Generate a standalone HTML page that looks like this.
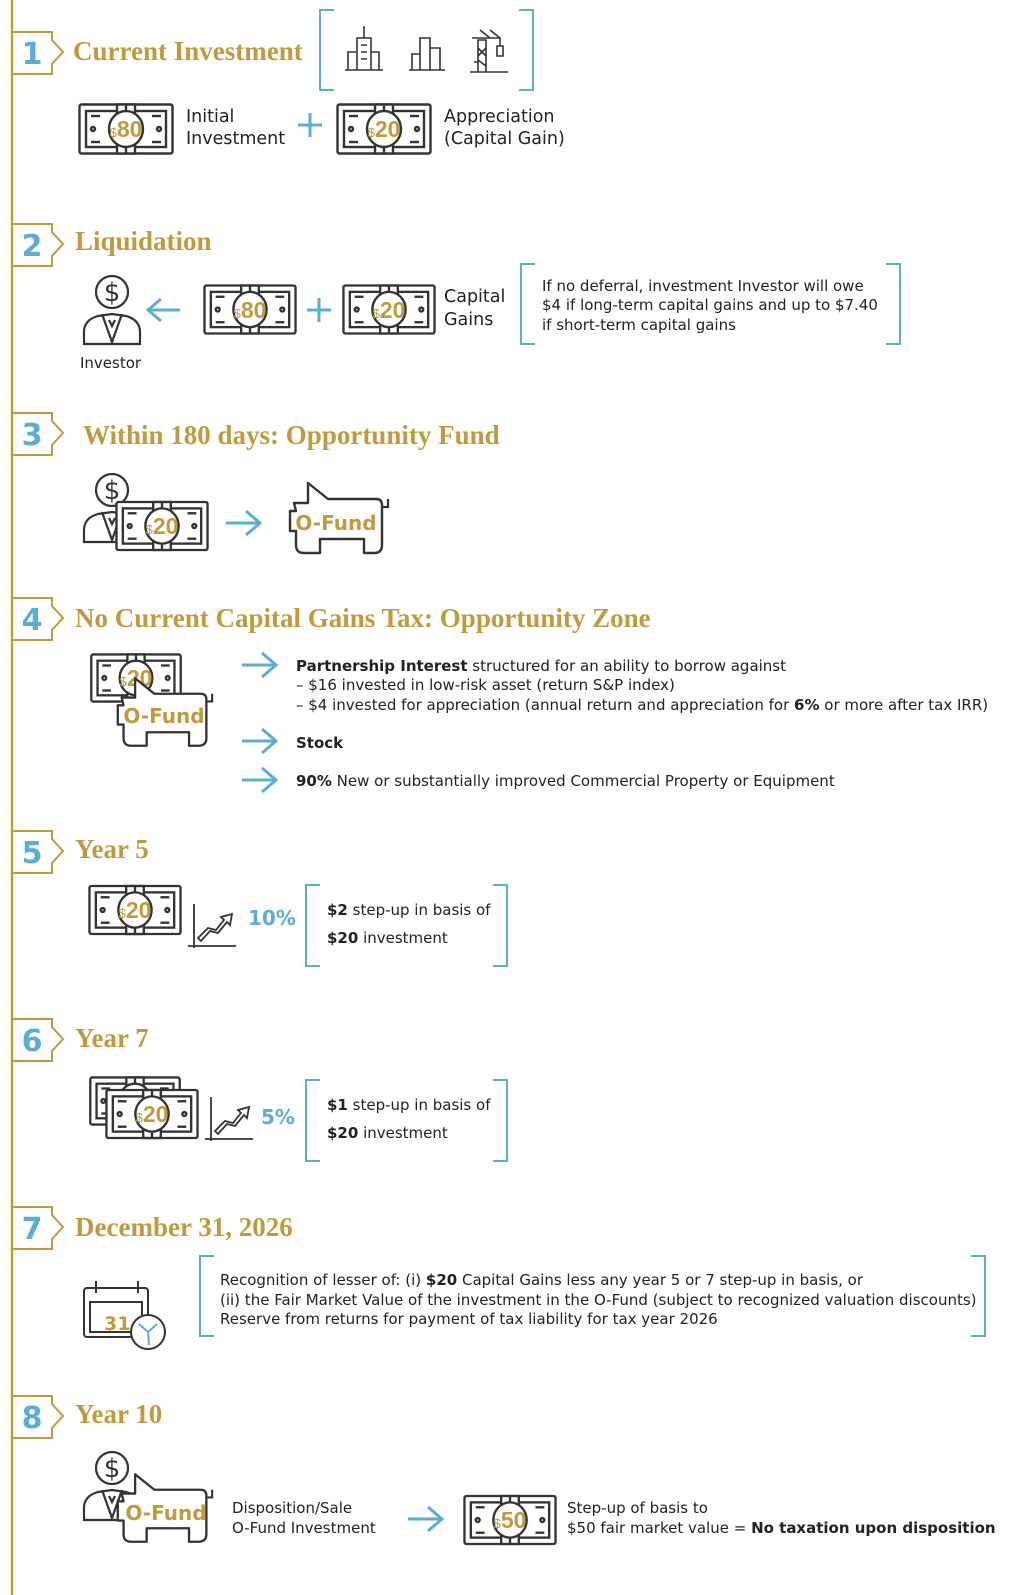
<!DOCTYPE html>
<html><head><meta charset="utf-8"><style>
html,body{margin:0;padding:0;background:#fff;}
svg{display:block;}
.h{font-family:"Liberation Serif",serif;font-weight:bold;font-size:27px;fill:#c09a3c;}
.n{font-family:"DejaVu Sans","Liberation Sans",sans-serif;font-weight:bold;font-size:30px;fill:#5aaed6;}
.t{font-family:"DejaVu Sans","Liberation Sans",sans-serif;font-size:15px;fill:#222;}
.tl{font-family:"DejaVu Sans","Liberation Sans",sans-serif;font-size:17.5px;fill:#222;}
.b{font-weight:bold;}
.g{font-family:"DejaVu Sans","Liberation Sans",sans-serif;font-weight:bold;fill:#c09a3c;}
.m{font-family:"Liberation Sans",sans-serif;font-weight:bold;fill:#c09a3c;font-size:23px;}
</style></head><body>
<svg width="1017" height="1595" viewBox="0 0 1017 1595" xmlns="http://www.w3.org/2000/svg">
<defs>
<symbol id="bill" viewBox="0 0 96 52" width="96" height="52">
 <g fill="none" stroke="#333" stroke-width="2.4">
  <rect x="1.5" y="1.5" width="93" height="49" rx="2" fill="#fff"/>
  <rect x="8" y="8" width="80" height="36"/>
  <rect x="39" y="1.5" width="18" height="49" fill="#fff"/>
  <line x1="48" y1="1.5" x2="48" y2="50.5"/>
  <ellipse cx="48" cy="26" rx="17" ry="18" fill="#fff"/>
  <circle cx="15" cy="26" r="2"/><circle cx="81" cy="26" r="2"/>
  <line x1="13" y1="13" x2="22" y2="13"/><line x1="13" y1="39" x2="22" y2="39"/>
  <line x1="74" y1="13" x2="83" y2="13"/><line x1="74" y1="39" x2="83" y2="39"/>
 </g>
</symbol>
<symbol id="pig" viewBox="0 0 108 76" width="108" height="76">
 <path d="M10,22 L24,22 L24,2 L44,18 L92,18 Q98,18 98,24 L98,64 Q98,72 90,72 L80,72 L80,58 L36,58 L36,72 L20,72 Q12,72 12,64 L12,50 L6,50 L6,30 L12,30 Z" fill="#fff" stroke="#333" stroke-width="2.4" stroke-linejoin="round"/>
 <path d="M98,26 L104,26 L104,18" fill="none" stroke="#333" stroke-width="2.2"/>
</symbol>
<symbol id="inv" viewBox="0 0 60 72" width="60" height="72">
 <g fill="none" stroke="#333" stroke-width="2.2">
  <circle cx="30" cy="18" r="16" fill="#fff"/>
  <path d="M2,70 L2,58 Q2,46 16,42 L30,40 L44,42 Q58,46 58,58 L58,70 Z" fill="#fff"/>
  <path d="M20,40 L30,68 L40,40 M27,46 L30,52 L33,46"/>
 </g>
 <text x="30" y="27" text-anchor="middle" font-family="DejaVu Sans,sans-serif" font-size="26" fill="#333">$</text>
</symbol>
<symbol id="arr" viewBox="0 0 40 30" width="40" height="30">
 <path d="M2,15 L36,15 M22,3 L36,15 L22,27" fill="none" stroke="#5aaed6" stroke-width="3"/>
</symbol>
<symbol id="chart" viewBox="0 0 50 50" width="50" height="50">
 <g fill="none" stroke="#333" stroke-width="1.8">
  <line x1="6" y1="4" x2="6" y2="48"/><line x1="0" y1="46" x2="48" y2="46"/>
  <path d="M10,38 L20,28 L28,30 L36,20 L33,17 L44,14 L42,25 L39,22 L30,33 L22,31 L13,41 Z"/>
 </g>
</symbol>
<symbol id="badge" viewBox="0 0 70 44" width="70" height="44">
 <path d="M0,1 L40,1 L40,9 L51,21 L40,33 L40,43 L0,43" fill="none" stroke="#c09a3c" stroke-width="2"/>
</symbol>
</defs>

<line x1="12" y1="0" x2="12" y2="1595" stroke="#c09a3c" stroke-width="2.5"/>

<use href="#badge" x="12" y="31"/><text class="n" x="32" y="64" text-anchor="middle">1</text>
<use href="#badge" x="12" y="223"/><text class="n" x="32" y="256" text-anchor="middle">2</text>
<use href="#badge" x="12" y="412"/><text class="n" x="32" y="445" text-anchor="middle">3</text>
<use href="#badge" x="12" y="597"/><text class="n" x="32" y="630" text-anchor="middle">4</text>
<use href="#badge" x="12" y="830"/><text class="n" x="32" y="863" text-anchor="middle">5</text>
<use href="#badge" x="12" y="1018"/><text class="n" x="32" y="1051" text-anchor="middle">6</text>
<use href="#badge" x="12" y="1206"/><text class="n" x="32" y="1239" text-anchor="middle">7</text>
<use href="#badge" x="12" y="1395"/><text class="n" x="32" y="1428" text-anchor="middle">8</text>

<!-- 1 -->
<text class="h" x="73" y="60">Current Investment</text>
<path d="M334,10 L320,10 L320,90 L334,90 M519,10 L533,10 L533,90 L519,90" fill="none" stroke="#5aaed6" stroke-width="2"/>
<g fill="none" stroke="#333" stroke-width="1.6">
 <path d="M345,70 L383,70 M348,70 L348,52 L356,52 M357,70 L357,38 L371,38 L371,70 M371,52 L379,52 L379,70 M364,38 L364,26 M361,45 L367,45 M361,52 L367,52 M361,59 L367,59"/>
 <path d="M409,70 L445,70 M412,70 L412,54 L420,54 M420,70 L420,38 L430,38 L430,70 M430,48 L440,48 L440,70"/>
 <path d="M470,72 L508,72 M478,72 L478,40 L486,40 L486,72 M478,48 L486,56 M486,48 L478,56 M478,60 L486,66 M472,38 L500,38 M480,30 L490,38 M490,30 L500,38 L500,46 M497,46 L503,46 L503,56 L497,56 Z M474,62 L478,62 L478,72"/>
</g>
<use href="#bill" x="78" y="103"/><text class="m" x="126" y="137" text-anchor="middle"><tspan font-size="13" font-weight="normal">$</tspan>80</text>
<text class="tl" x="186" y="122">Initial</text><text class="tl" x="186" y="144">Investment</text>
<path d="M298,125 L322,125 M310,113 L310,137" stroke="#5aaed6" stroke-width="3"/>
<use href="#bill" x="336" y="103"/><text class="m" x="384" y="137" text-anchor="middle"><tspan font-size="13" font-weight="normal">$</tspan>20</text>
<text class="tl" x="444" y="122">Appreciation</text><text class="tl" x="444" y="144">(Capital Gain)</text>

<!-- 2 -->
<text class="h" x="75" y="250">Liquidation</text>
<use href="#inv" x="82" y="274"/>
<text class="t" x="80" y="368">Investor</text>
<path d="M180,310 L148,310 M161,299 L148,310 L161,321" fill="none" stroke="#5aaed6" stroke-width="3"/>
<use href="#bill" x="203" y="284" width="94" height="51"/><text class="m" x="250" y="318" text-anchor="middle"><tspan font-size="13" font-weight="normal">$</tspan>80</text>
<path d="M307,310 L331,310 M319,298 L319,322" stroke="#5aaed6" stroke-width="3"/>
<use href="#bill" x="342" y="284" width="94" height="51"/><text class="m" x="389" y="318" text-anchor="middle"><tspan font-size="13" font-weight="normal">$</tspan>20</text>
<text class="tl" x="444" y="302">Capital</text><text class="tl" x="444" y="325">Gains</text>
<path d="M535,264 L521,264 L521,344 L535,344 M886,264 L900,264 L900,344 L886,344" fill="none" stroke="#5aaed6" stroke-width="2"/>
<text class="t" x="542" y="291">If no deferral, investment Investor will owe</text>
<text class="t" x="542" y="310">$4 if long-term capital gains and up to $7.40</text>
<text class="t" x="542" y="330">if short-term capital gains</text>

<!-- 3 -->
<text class="h" x="83" y="444">Within 180 days: Opportunity Fund</text>
<use href="#inv" x="82" y="472"/>
<use href="#bill" x="115" y="500" width="94" height="52"/><text class="m" x="162" y="534" text-anchor="middle"><tspan font-size="13" font-weight="normal">$</tspan>20</text>
<use href="#arr" x="224" y="508"/>
<use href="#pig" x="284" y="481"/>
<text class="g" x="336" y="530" text-anchor="middle" font-size="20">O-Fund</text>

<!-- 4 -->
<text class="h" x="75" y="627">No Current Capital Gains Tax: Opportunity Zone</text>
<use href="#bill" x="88" y="653" width="96" height="50"/><text class="m" x="136" y="686" text-anchor="middle"><tspan font-size="13" font-weight="normal">$</tspan>20</text>
<use href="#pig" x="112" y="676" width="104" height="74"/>
<text class="g" x="164" y="723" text-anchor="middle" font-size="20">O-Fund</text>
<use href="#arr" x="240" y="650"/>
<use href="#arr" x="240" y="726"/>
<use href="#arr" x="240" y="765"/>
<text class="t" x="296" y="671"><tspan class="b">Partnership Interest</tspan> structured for an ability to borrow against</text>
<text class="t" x="296" y="690">– $16 invested in low-risk asset (return S&amp;P index)</text>
<text class="t" x="296" y="710">– $4 invested for appreciation (annual return and appreciation for <tspan class="b">6%</tspan> or more after tax IRR)</text>
<text class="t b" x="296" y="748">Stock</text>
<text class="t" x="296" y="786"><tspan class="b">90%</tspan> New or substantially improved Commercial Property or Equipment</text>

<!-- 5 -->
<text class="h" x="75" y="858">Year 5</text>
<use href="#bill" x="88" y="884" width="94" height="52"/><text class="m" x="135" y="918" text-anchor="middle"><tspan font-size="13" font-weight="normal">$</tspan>20</text>
<use href="#chart" x="188" y="900"/>
<text x="248" y="925" font-family="DejaVu Sans,sans-serif" font-weight="bold" font-size="20" fill="#5aaed6">10%</text>
<path d="M320,885 L306,885 L306,966 L320,966 M493,885 L507,885 L507,966 L493,966" fill="none" stroke="#5aaed6" stroke-width="2"/>
<text class="t" x="327" y="915"><tspan class="b">$2</tspan> step-up in basis of</text>
<text class="t" x="327" y="943"><tspan class="b">$20</tspan> investment</text>

<!-- 6 -->
<text class="h" x="75" y="1047">Year 7</text>
<use href="#bill" x="88" y="1076" width="94" height="50"/>
<use href="#bill" x="105" y="1088" width="94" height="52"/><text class="m" x="152" y="1122" text-anchor="middle"><tspan font-size="13" font-weight="normal">$</tspan>20</text>
<use href="#chart" x="205" y="1093"/>
<text x="261" y="1124" font-family="DejaVu Sans,sans-serif" font-weight="bold" font-size="20" fill="#5aaed6">5%</text>
<path d="M320,1080 L306,1080 L306,1161 L320,1161 M493,1080 L507,1080 L507,1161 L493,1161" fill="none" stroke="#5aaed6" stroke-width="2"/>
<text class="t" x="327" y="1110"><tspan class="b">$1</tspan> step-up in basis of</text>
<text class="t" x="327" y="1138"><tspan class="b">$20</tspan> investment</text>

<!-- 7 -->
<text class="h" x="75" y="1236">December 31, 2026</text>
<g fill="none" stroke="#333" stroke-width="2">
 <rect x="84" y="1288" width="64" height="49" rx="3"/>
 <rect x="90" y="1302" width="52" height="30"/>
 <line x1="96" y1="1281" x2="96" y2="1293"/><line x1="138" y1="1281" x2="138" y2="1293"/>
 <circle cx="148" cy="1332" r="17" fill="#fff"/>
</g>
<path d="M148,1332 L139,1324 M148,1332 L157,1324 M148,1332 L149,1345" stroke="#5aaed6" stroke-width="2" fill="none"/>
<text class="g" x="104" y="1330" font-size="19">31</text>
<path d="M214,1256 L200,1256 L200,1336 L214,1336 M971,1256 L985,1256 L985,1336 L971,1336" fill="none" stroke="#5aaed6" stroke-width="2"/>
<text class="t" x="220" y="1285">Recognition of lesser of: (i) <tspan class="b">$20</tspan> Capital Gains less any year 5 or 7 step-up in basis, or</text>
<text class="t" x="220" y="1305">(ii) the Fair Market Value of the investment in the O-Fund (subject to recognized valuation discounts)</text>
<text class="t" x="220" y="1324">Reserve from returns for payment of tax liability for tax year 2026</text>

<!-- 8 -->
<text class="h" x="75" y="1423">Year 10</text>
<use href="#inv" x="82" y="1450"/>
<use href="#pig" x="112" y="1472" width="104" height="74"/>
<text class="g" x="166" y="1520" text-anchor="middle" font-size="20">O-Fund</text>
<text class="t" x="232" y="1513">Disposition/Sale</text>
<text class="t" x="232" y="1533">O-Fund Investment</text>
<use href="#arr" x="406" y="1504"/>
<use href="#bill" x="463" y="1494" width="94" height="52"/><text class="m" x="510" y="1528" text-anchor="middle"><tspan font-size="13" font-weight="normal">$</tspan>50</text>
<text class="t" x="567" y="1513">Step-up of basis to</text>
<text class="t" x="567" y="1533">$50 fair market value = <tspan class="b">No taxation upon disposition</tspan></text>
</svg>
</body></html>
